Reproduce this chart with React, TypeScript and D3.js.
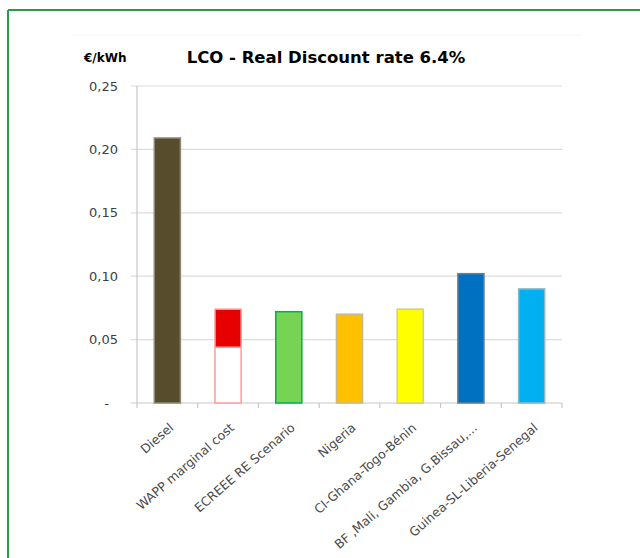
import React from "react";
import * as d3 from "d3";

const categories = [
  "Diesel",
  "WAPP marginal cost",
  "ECREEE RE Scenario",
  "Nigeria",
  "CI-Ghana-Togo-Bénin",
  "BF ,Mali, Gambia, G.Bissau,...",
  "Guinea-SL-Liberia-Senegal",
];
// total LCO per category (€/kWh)
const totals = [0.209, 0.074, 0.072, 0.07, 0.074, 0.102, 0.09];
// lower (hollow) part of the WAPP bar
const lowerParts = [0, 0.044, 0, 0, 0, 0, 0];
const fills = ["#574d2d", "#e60000", "#77d353", "#ffc000", "#ffff00", "#0070c0", "#00b0f0"];
const strokes = ["#8a8a7a", "#ff9a9a", "#00b050", "#c8b890", "#d0d080", "#6a7f90", "#8fb8cc"];
const yTicks = [0, 0.05, 0.1, 0.15, 0.2, 0.25];
const yTickLabels = ["-", "0,05", "0,10", "0,15", "0,20", "0,25"];

const W = 640;
const H = 558;
const left = 137;
const right = 562;
const top = 86;
const bottom = 403;
const font = "'DejaVu Sans', sans-serif";

export default function App() {
  const x = d3.scaleBand<string>().domain(categories).range([left, right]).padding(0);
  const y = d3.scaleLinear().domain([0, 0.25]).range([bottom, top]);
  const bw = x.bandwidth() * 0.43;

  return (
    <svg width={W} height={H} style={{ position: "absolute", left: 0, top: 0, background: "#fff" }}>
      <rect x={0} y={0} width={W} height={H} fill="#fff" />
      {/* frame */}
      <line x1={8} y1={10} x2={W + 5} y2={10} stroke="#2f9a45" strokeWidth={2} />
      <line x1={8} y1={10} x2={8} y2={H + 5} stroke="#2f9a45" strokeWidth={2} />
      <line x1={73} y1={35} x2={582} y2={35} stroke="#f6f6f6" strokeWidth={1} />

      {/* gridlines */}
      {yTicks.map((t, i) =>
        i === 0 ? null : (
          <line key={"g" + i} x1={left - 6} x2={right} y1={y(t)} y2={y(t)} stroke="#dcdcdc" strokeWidth={1.2} />
        )
      )}
      {/* y axis */}
      <line x1={left} x2={left} y1={top} y2={bottom} stroke="#c8c8c8" strokeWidth={1.2} />
      {/* x axis */}
      <line x1={left - 6} x2={right} y1={bottom} y2={bottom} stroke="#c8c8c8" strokeWidth={1.2} />
      {categories.map((c, i) => (
        <line key={"xt" + i} x1={x(c)!} x2={x(c)!} y1={bottom} y2={bottom + 5} stroke="#c8c8c8" strokeWidth={1.2} />
      ))}
      <line x1={right} x2={right} y1={bottom} y2={bottom + 5} stroke="#c8c8c8" strokeWidth={1.2} />

      {/* y tick labels */}
      {yTicks.map((t, i) => (
        <text
          key={"yl" + i}
          x={i === 0 ? 109 : 118}
          y={y(t)}
          dy="0.35em"
          textAnchor="end"
          fontFamily={font}
          fontSize={13}
          fill="#404040"
        >
          {yTickLabels[i]}
        </text>
      ))}

      {/* bars */}
      {categories.map((c, i) => {
        const cx = x(c)! + x.bandwidth() / 2;
        const lo = lowerParts[i];
        const tot = totals[i];
        return (
          <g key={"b" + i}>
            {lo > 0 && (
              <rect
                x={cx - bw / 2}
                y={y(lo)}
                width={bw}
                height={y(0) - y(lo)}
                fill="#ffffff"
                stroke={strokes[i]}
                strokeWidth={1.5}
              />
            )}
            <rect
              x={cx - bw / 2}
              y={y(tot)}
              width={bw}
              height={y(lo) - y(tot)}
              fill={fills[i]}
              stroke={strokes[i]}
              strokeWidth={1.5}
            />
          </g>
        );
      })}

      {/* x labels */}
      {categories.map((c, i) => {
        const cx = x(c)! + x.bandwidth() / 2;
        return (
          <text
            key={"xl" + i}
            transform={`translate(${cx + 7},${bottom + 26}) rotate(-41)`}
            textAnchor="end"
            fontFamily={font}
            fontSize={12.5}
            fill="#4a4a4a"
          >
            {c}
          </text>
        );
      })}

      {/* titles */}
      <text x={84} y={62} fontFamily={font} fontSize={12} fontWeight="bold" fill="#000">
        €/kWh
      </text>
      <text x={326} y={63} textAnchor="middle" fontFamily={font} fontSize={16.5} fontWeight="bold" fill="#000">
        LCO - Real Discount rate 6.4%
      </text>
    </svg>
  );
}
